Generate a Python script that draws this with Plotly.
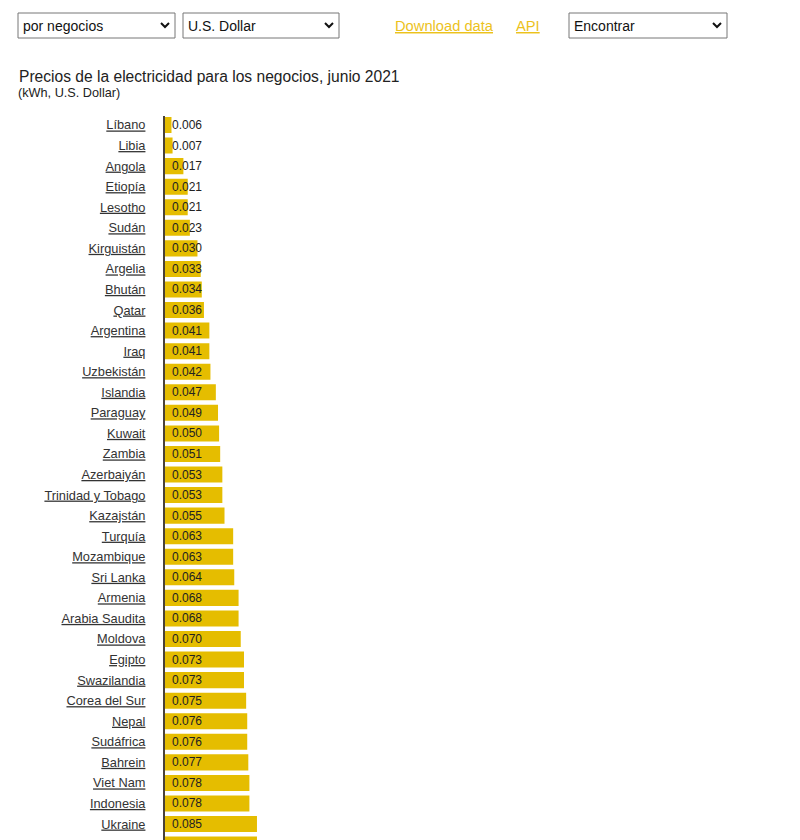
import plotly.graph_objects as go

countries = ["Líbano", "Libia", "Angola", "Etiopía", "Lesotho", "Sudán", "Kirguistán",
             "Argelia", "Bhután", "Qatar", "Argentina", "Iraq", "Uzbekistán", "Islandia",
             "Paraguay", "Kuwait", "Zambia", "Azerbaiyán", "Trinidad y Tobago", "Kazajstán",
             "Turquía", "Mozambique", "Sri Lanka", "Armenia", "Arabia Saudita", "Moldova",
             "Egipto", "Swazilandia", "Corea del Sur", "Nepal", "Sudáfrica", "Bahrein",
             "Viet Nam", "Indonesia", "Ukraine", "Ecuador"]
prices = [0.006, 0.007, 0.017, 0.021, 0.021, 0.023, 0.030,
          0.033, 0.034, 0.036, 0.041, 0.041, 0.042, 0.047,
          0.049, 0.050, 0.051, 0.053, 0.053, 0.055,
          0.063, 0.063, 0.064, 0.068, 0.068, 0.070,
          0.073, 0.073, 0.075, 0.076, 0.076, 0.077,
          0.078, 0.078, 0.085, 0.085]

title_text = "Precios de la electricidad para los negocios, junio 2021"
subtitle_text = "(kWh, U.S. Dollar)"
select_texts = ["por negocios", "U.S. Dollar", "Encontrar"]
link_texts = ["Download data", "API"]

OFF = 8  # page body margin
W, H = 800 - OFF, 840 - OFF
FONT = "Arial, Liberation Sans, sans-serif"
BAR = "#e5bd00"
GOLD = "#ecc21c"

def px(x):
    return (x - OFF) / W

def py(y):
    return 1 - (y - OFF) / H

fig = go.Figure()
fig.add_trace(go.Bar(
    x=prices, y=countries, orientation="h",
    marker=dict(color=BAR, line=dict(width=0)),
    hoverinfo="skip",
))

annotations = []
for c, v in zip(countries, prices):
    annotations.append(dict(
        x=0, y=c, xref="x", yref="y", xanchor="left", yanchor="middle",
        xshift=5, text=f"{v:.3f}", showarrow=False,
        font=dict(family=FONT, size=12, color="#222"),
    ))

# page header elements
annotations.append(dict(x=px(17), y=py(76), xref="paper", yref="paper",
                        xanchor="left", yanchor="middle", text=title_text,
                        showarrow=False, font=dict(family=FONT, size=15.6, color="#222")))
annotations.append(dict(x=px(16), y=py(93), xref="paper", yref="paper",
                        xanchor="left", yanchor="middle", text=subtitle_text,
                        showarrow=False, font=dict(family=FONT, size=12.7, color="#222")))

boxes = [(18, 175), (183, 339), (569, 727)]
shapes = []
for (x0, x1), t in zip(boxes, select_texts):
    shapes.append(dict(type="rect", xref="paper", yref="paper",
                       x0=px(x0), x1=px(x1), y0=py(38), y1=py(13),
                       line=dict(color="#767676", width=1), fillcolor="white"))
    cx = x1 - 10
    shapes.append(dict(type="path", xref="paper", yref="paper",
                       path=f"M {px(cx-4)} {py(23)} L {px(cx)} {py(27)} L {px(cx+4)} {py(23)}",
                       line=dict(color="#111", width=2)))
    annotations.append(dict(x=px(x0 + 3), y=py(25.5), xref="paper", yref="paper",
                            xanchor="left", yanchor="middle", text=t, showarrow=False,
                            font=dict(family=FONT, size=14, color="#111")))

for x0, t in zip([393, 514], link_texts):
    annotations.append(dict(x=px(x0), y=py(25.5), xref="paper", yref="paper",
                            xanchor="left", yanchor="middle", text=f"<u>{t}</u>",
                            showarrow=False,
                            font=dict(family=FONT, size=14.7, color=GOLD)))

scale = 1082.0  # px per unit
x_left, x_right = 165, 790
row = 20.56
first_center = 125
y_top_idx = -0.45
y_bot_idx = (840 - first_center) / row

fig.update_layout(
    width=W, height=H,
    margin=dict(l=0, r=0, t=0, b=0),
    paper_bgcolor="white", plot_bgcolor="white",
    showlegend=False,
    bargap=0.22,
    font=dict(family=FONT, size=12, color="#333"),
    xaxis=dict(domain=[px(x_left), px(x_right)],
               range=[0, (x_right - x_left) / scale],
               showgrid=False, zeroline=False, showticklabels=False,
               showline=False, ticks=""),
    yaxis=dict(domain=[0, py(first_center + row * y_top_idx)],
               range=[y_bot_idx, y_top_idx],
               type="category",
               categoryorder="array", categoryarray=countries,
               tickvals=countries,
               ticktext=[f"<u>{c}</u>" for c in countries],
               tickfont=dict(family=FONT, size=12.8, color="#333"),
               showgrid=False, zeroline=False,
               showline=True, linecolor="#4a4238", linewidth=2,
               ticks="", ticklabelstandoff=15),
    annotations=annotations,
    shapes=shapes,
)

fig.write_html("out.html")
